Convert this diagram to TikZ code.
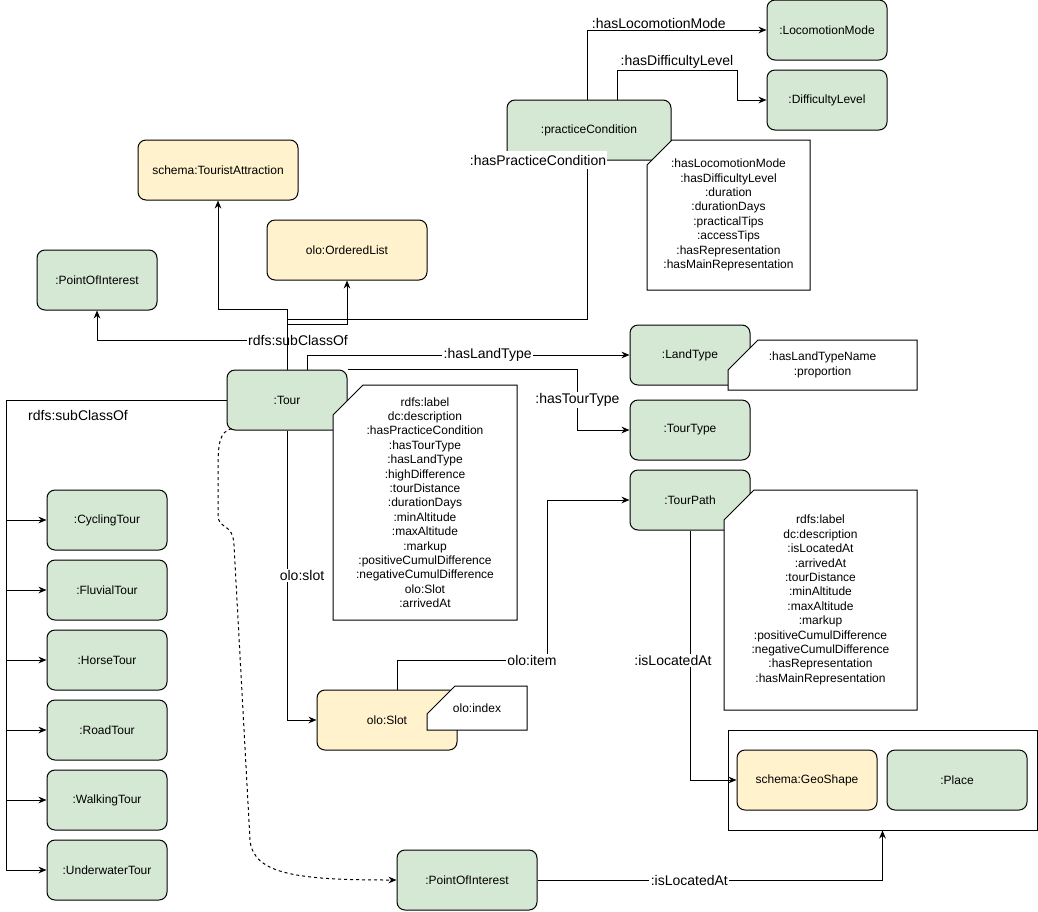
\documentclass[tikz,border=0pt]{standalone}
\usepackage{fontspec}
\setmainfont{Liberation Sans}
\usetikzlibrary{arrows.meta,positioning}
\definecolor{clsgreen}{HTML}{D5E8D4}
\definecolor{extyellow}{HTML}{FFF2CC}
\newcommand{\nodefont}{\fontsize{9}{10.8}\selectfont}
\newcommand{\edgefont}{\fontsize{10.5}{12.6}\selectfont}

\begin{document}
\begin{tikzpicture}[
    x=0.75pt, y=-0.75pt,
    line width=0.75pt,
    cls/.style={rectangle, draw, rounded corners=6pt, fill=clsgreen, minimum width=90pt, minimum height=45pt, font=\nodefont},
    ext/.style={cls, fill=extyellow},
    notebox/.style={draw, fill=white},
    notetext/.style={align=center, font=\nodefont},
    lbl/.style={fill=white, inner sep=1pt, font=\edgefont},
    arrow/.style={-{Stealth[length=6pt,width=5pt]}}
]
\useasboundingbox (0,0) rectangle (1038,911);

% Classes
\node[cls] (lm) at (827,30) {:LocomotionMode};
\node[cls] (dl) at (827,100) {:DifficultyLevel};
\node[cls, minimum width=123pt] (pc) at (589,130) {:practiceCondition};
\node[ext, minimum width=120pt] (ta) at (218,170) {schema:TouristAttraction};
\node[ext, minimum width=120pt] (ol) at (347,250) {olo:OrderedList};
\node[cls] (poi) at (97,280) {:PointOfInterest};
\node[cls] (tour) at (287,400) {:Tour};
\node[cls] (lt) at (690,355) {:LandType};
\node[cls] (tt) at (690,430) {:TourType};
\node[cls] (tp) at (690,500) {:TourPath};
\node[ext, minimum width=105pt] (slot) at (387,720) {olo:Slot};
\node[cls, minimum width=105pt] (poi2) at (467,880) {:PointOfInterest};

% Tour subclasses
\foreach \n/\t/\y in {cy/CyclingTour/520, fl/FluvialTour/590, ho/HorseTour/660, ro/RoadTour/730, wa/WalkingTour/800, un/UnderwaterTour/870}
  \node[cls] (\n) at (107,\y) {:\t};

% Location
\node[draw, minimum width=231.75pt, minimum height=75pt] (loc) at (882.5,780) {};
\node[ext, minimum width=105pt] (gs) at (807,780) {schema:GeoShape};
\node[cls, minimum width=105pt] (place) at (957,780) {:Place};

% Property notes
\draw[notebox] (647,165) -- (672,140) -- (810,140) -- (810,290) -- (647,290) -- cycle;
\node[notetext] (pcnote) at (728.5,215) {:hasLocomotionMode\\:hasDifficultyLevel\\:duration\\:durationDays\\:practicalTips\\:accessTips\\:hasRepresentation\\:hasMainRepresentation};
\draw[notebox] (333,415) -- (363,385) -- (517,385) -- (517,620) -- (333,620) -- cycle;
\node[notetext] (tournote) at (425,502.5) {rdfs:label\\dc:description\\:hasPracticeCondition\\:hasTourType\\:hasLandType\\:highDifference\\:tourDistance\\:durationDays\\:minAltitude\\:maxAltitude\\:markup\\:positiveCumulDifference\\:negativeCumulDifference\\olo:Slot\\:arrivedAt};
\draw[notebox] (728,370) -- (758,340) -- (917,340) -- (917,390) -- (728,390) -- cycle;
\node[notetext] (ltnote) at (822.5,365) {:hasLandTypeName\\:proportion};
\draw[notebox] (724,520) -- (754,490) -- (917,490) -- (917,710) -- (724,710) -- cycle;
\node[notetext] (tpnote) at (820.5,600) {rdfs:label\\dc:description\\:isLocatedAt\\:arrivedAt\\:tourDistance\\:minAltitude\\:maxAltitude\\:markup\\:positiveCumulDifference\\:negativeCumulDifference\\:hasRepresentation\\:hasMainRepresentation};
\draw[notebox] (427,714) -- (455,686) -- (527,686) -- (527,730) -- (427,730) -- cycle;
\node[notetext] (idxnote) at (477,708) {olo:index};

% Practice condition links
\draw[arrow] ([xshift=-1.5pt]pc.north) |- node[lbl, fill=none, pos=0.7, above] {:hasLocomotionMode} (lm.west);
\draw[arrow] ([xshift=21pt]pc.north) |- node[lbl, fill=none, pos=0.75, above] {:hasDifficultyLevel} (737,70) |- (dl.west);

% Tour links upwards
\draw[arrow] (tour.north) -- ++(0,-29) node[lbl, xshift=8.25pt] {rdfs:subClassOf} -| (poi.south);
\draw[arrow] (tour.north) -- ++(0,-60) -| (ta.south);
\draw[arrow] (tour.north) -- ++(0,-45) -| (ol.south);
\draw[arrow] (tour.north) -- ++(0,-50) -| ([xshift=-1.5pt]pc.south);
\node[lbl, inner ysep=3pt] (lpc) at (538,160) {:hasPracticeCondition};

% Tour links to the right
\draw[arrow] ([xshift=15pt]tour.north) |- node[lbl, pos=0.78] {:hasLandType} (lt.west);
\draw[arrow] (tour.north east) -- ++(230,0) |- node[lbl, pos=0.25] {:hasTourType} (tt.west);

% Subclasses
\foreach \n in {cy,fl,ho,ro,wa,un}
  \draw[arrow] (tour.west) -- ++(-220,0) |- (\n.west);
\node[font=\edgefont] (lsub) at (78,415) {rdfs:subClassOf};

% Slots and paths
\draw[arrow] (tour.south) |- node[lbl, pos=0.25, xshift=11.25pt] {olo:slot} (slot.west);
\draw[arrow] ([xshift=7.5pt]slot.north) |- node[lbl, pos=0.95] {olo:item} (547,660) |- (tp.west);
\draw[arrow] (tp.south) |- node[lbl, pos=0.26, xshift=-12.75pt] {:isLocatedAt} (gs.west);

% Points of interest
\draw[arrow, dash pattern=on 2.25pt off 2.25pt] ([xshift=3.75pt,yshift=1.5pt]tour.south west) .. controls (219,432) and (218,445) .. (218,470) -- (218,515) .. controls (218,530) and (233,522) .. (234,545) -- (250,840) .. controls (253,875) and (300,880) .. (poi2.west);
\draw[arrow] (poi2.east) -| node[lbl, pos=0.22] {:isLocatedAt} (loc.south);
\end{tikzpicture}
\end{document}
